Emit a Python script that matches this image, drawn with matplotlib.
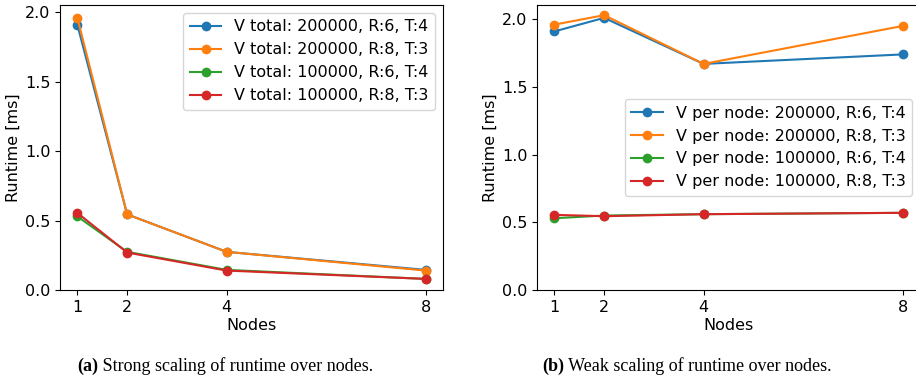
import matplotlib
matplotlib.use("Agg")
import matplotlib.pyplot as plt
from matplotlib.ticker import MultipleLocator

nodes = [1, 2, 4, 8]

# Strong scaling: fixed total vertex count
strong_labels = [
    "V total: 200000, R:6, T:4",
    "V total: 200000, R:8, T:3",
    "V total: 100000, R:6, T:4",
    "V total: 100000, R:8, T:3",
]
strong_200k_r6 = [1.91, 0.545, 0.275, 0.145]
strong_200k_r8 = [1.96, 0.545, 0.275, 0.14]
strong_100k_r6 = [0.53, 0.275, 0.145, 0.08]
strong_100k_r8 = [0.555, 0.27, 0.14, 0.08]

# Weak scaling: fixed vertex count per node
weak_labels = [
    "V per node: 200000, R:6, T:4",
    "V per node: 200000, R:8, T:3",
    "V per node: 100000, R:6, T:4",
    "V per node: 100000, R:8, T:3",
]
weak_200k_r6 = [1.91, 2.01, 1.67, 1.74]
weak_200k_r8 = [1.96, 2.03, 1.67, 1.95]
weak_100k_r6 = [0.53, 0.55, 0.56, 0.57]
weak_100k_r8 = [0.555, 0.545, 0.56, 0.57]

captions = [("(a)", " Strong scaling of runtime over nodes."),
            ("(b)", " Weak scaling of runtime over nodes.")]

colors = ["#1f77b4", "#ff7f0e", "#2ca02c", "#d62728"]

plt.rcParams["font.size"] = 11.5

fig = plt.figure(figsize=(9.16, 3.83), dpi=100)
ax1 = fig.add_axes([60 / 916, 1 - 290 / 383, 383 / 916, 285 / 383])
ax2 = fig.add_axes([537 / 916, 1 - 290 / 383, 383 / 916, 285 / 383])

strong = [strong_200k_r6, strong_200k_r8, strong_100k_r6, strong_100k_r8]
weak = [weak_200k_r6, weak_200k_r8, weak_100k_r6, weak_100k_r8]

for ax, series, labels in [(ax1, strong, strong_labels), (ax2, weak, weak_labels)]:
    for vals, lab, c in zip(series, labels, colors):
        ax.plot(nodes, vals, marker="o", color=c, label=lab, markersize=6, linewidth=1.5)
    ax.set_ylim(bottom=0)
    ax.yaxis.set_major_locator(MultipleLocator(0.5))
    ax.set_xticks(nodes)
    ax.set_xlabel("Nodes", labelpad=2)
    ax.set_ylabel("Runtime [ms]", labelpad=3)

ax1.legend(loc="upper right")
ax2.legend(loc="center right")

fig.canvas.draw()
r = fig.canvas.get_renderer()
cap_y = 1 - 366 / 383
for (tag, rest), xc in zip(captions, [225 / 916, 687 / 916]):
    ta = fig.text(0, cap_y, tag, family="Liberation Serif", fontsize=13, weight="bold", va="center")
    tb = fig.text(0, cap_y, rest, family="Liberation Serif", fontsize=13, va="center")
    wa = ta.get_window_extent(r).width / 916
    wb = tb.get_window_extent(r).width / 916
    x0 = xc - (wa + wb) / 2
    ta.set_x(x0)
    tb.set_x(x0 + wa)

fig.savefig("out.png", dpi=100)
